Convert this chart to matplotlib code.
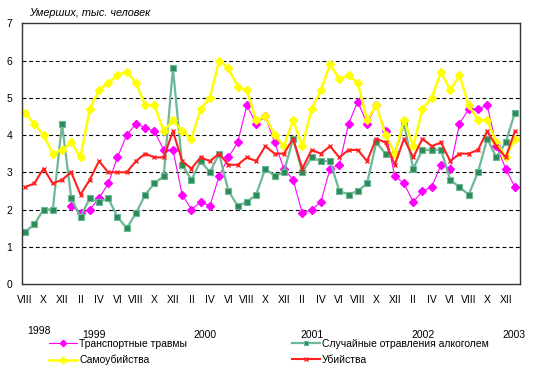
import matplotlib
matplotlib.use('Agg')
import matplotlib.pyplot as plt
import numpy as np

plt.rcParams['font.family'] = ['Liberation Sans', 'DejaVu Sans']
plt.rcParams['font.size'] = 7.5

# Monthly data, VIII 1998 .. I 2003 (54 months), thousands of deaths
transport = [None, None, None, None, None, 2.1, 1.9, 2.0, 2.3, 2.7,
             3.4, 4.0, 4.3, 4.2, 4.1, 3.6, 3.6, 2.4, 2.0, 2.2,
             2.1, 2.9, 3.4, 3.8, 4.8, 4.3, 4.5, 3.8, 3.1, 2.8,
             1.9, 2.0, 2.2, 3.1, 3.2, 4.3, 4.9, 4.3, 4.8, 4.1,
             2.9, 2.7, 2.2, 2.5, 2.6, 3.2, 3.1, 4.3, 4.7, 4.7,
             4.8, 3.7, 3.1, 2.6]
alcohol = [1.4, 1.6, 2.0, 2.0, 4.3, 2.3, 1.8, 2.3, 2.2, 2.3,
           1.8, 1.5, 1.9, 2.4, 2.7, 2.9, 5.8, 3.2, 2.8, 3.3,
           3.0, 3.5, 2.5, 2.1, 2.2, 2.4, 3.1, 2.9, 3.0, 3.9,
           3.0, 3.4, 3.3, 3.3, 2.5, 2.4, 2.5, 2.7, 3.8, 3.5,
           3.5, 4.3, 3.1, 3.6, 3.6, 3.6, 2.8, 2.6, 2.4, 3.0,
           3.9, 3.4, 3.8, 4.6]
suicide = [4.6, 4.3, 4.0, 3.5, 3.6, 3.8, 3.4, 4.7, 5.2, 5.4,
           5.6, 5.7, 5.4, 4.8, 4.8, 4.1, 4.4, 4.1, 3.9, 4.7,
           5.0, 6.0, 5.8, 5.3, 5.2, 4.4, 4.5, 4.0, 3.7, 4.4,
           3.7, 4.7, 5.2, 5.9, 5.5, 5.6, 5.4, 4.4, 4.8, 4.0,
           3.5, 4.4, 3.7, 4.7, 5.0, 5.7, 5.2, 5.6, 4.8, 4.4,
           4.4, 3.8, 3.4, 3.9]
homicide = [2.6, 2.7, 3.1, 2.7, 2.8, 3.0, 2.4, 2.8, 3.3, 3.0,
            3.0, 3.0, 3.3, 3.5, 3.4, 3.4, 4.1, 3.3, 3.1, 3.4,
            3.3, 3.5, 3.2, 3.2, 3.4, 3.3, 3.7, 3.5, 3.5, 3.9,
            3.1, 3.6, 3.5, 3.7, 3.4, 3.6, 3.6, 3.3, 3.9, 3.8,
            3.2, 3.9, 3.4, 3.9, 3.7, 3.8, 3.3, 3.5, 3.5, 3.6,
            4.1, 3.7, 3.4, 4.1]

tick_labels = ['VIII', 'X', 'XII'] + ['II', 'IV', 'VI', 'VIII', 'X', 'XII'] * 4
years = ['1998', '1999', '2000', '2001', '2002', '2003']
year_pos_px = [(27, 326), (82, 330), (193, 330), (300, 330), (411, 330), (502, 330)]

W, H = 535, 377


def fx(px):
    return px / W


def fy(py):
    return 1 - py / H


def arr(vals):
    return np.array([np.nan if v is None else v for v in vals], dtype=float)


fig = plt.figure(figsize=(W / 100, H / 100), dpi=100)
ax = fig.add_axes([fx(22), fy(284), fx(520) - fx(22), fy(23.3) - fy(284)])

x = np.arange(len(alcohol))

l_tr, = ax.plot(x, arr(transport), color='#FF00FF', linewidth=0.8,
                marker='D', markersize=3.8, markerfacecolor='#FF00FF',
                markeredgecolor='#FF00FF', label='Транспортные травмы')
l_al, = ax.plot(x, arr(alcohol), color='#6DB898', linewidth=1.6,
                marker='s', markersize=3.8, markerfacecolor='#2E8B57',
                markeredgecolor='#6DB898', markeredgewidth=0.8,
                label='Случайные отравления алкоголем')
l_su, = ax.plot(x, arr(suicide), color='#FFFF00', linewidth=1.8,
                marker='D', markersize=4.1, markerfacecolor='#FFFF00',
                markeredgecolor='#FFFF00', label='Самоубийства')
l_ho, = ax.plot(x, arr(homicide), color='#FF2020', linewidth=1.5,
                marker='x', markersize=3.3, markeredgewidth=1.0,
                label='Убийства')

ax.set_ylim(0, 7)
ax.set_yticks(range(0, 8))
ax.set_xlim(-0.33, 53.55)
ax.set_xticks(np.arange(0, len(alcohol), 2)[:len(tick_labels)])
ax.set_xticklabels(tick_labels)
ax.tick_params(axis='x', length=0, pad=8)
ax.tick_params(axis='y', length=0, pad=7)

for v in range(1, 7):
    ax.axhline(v, color='black', linewidth=0.8, linestyle=(0, (3.5, 2.5)), zorder=0)

for sp in ax.spines.values():
    sp.set_color('#333333')
    sp.set_linewidth(1.0)

fig.text(fx(29), fy(8), 'Умерших, тыс. человек', fontstyle='italic',
         ha='left', va='top', fontsize=7.8)

for yr, (px, py) in zip(years, year_pos_px):
    fig.text(fx(px), fy(py), yr, ha='left', va='top', fontsize=7.5)

leg_kw = dict(loc='upper left', frameon=False, fontsize=7.5, handlelength=2.7,
              handletextpad=0.2, labelspacing=0.55, borderpad=0, borderaxespad=0,
              markerscale=0.85)
fig.legend(handles=[l_tr, l_su], bbox_to_anchor=(fx(49), fy(339)), **leg_kw)
fig.legend(handles=[l_al, l_ho], bbox_to_anchor=(fx(292), fy(339)), **leg_kw)

fig.savefig('out.png', dpi=100)
